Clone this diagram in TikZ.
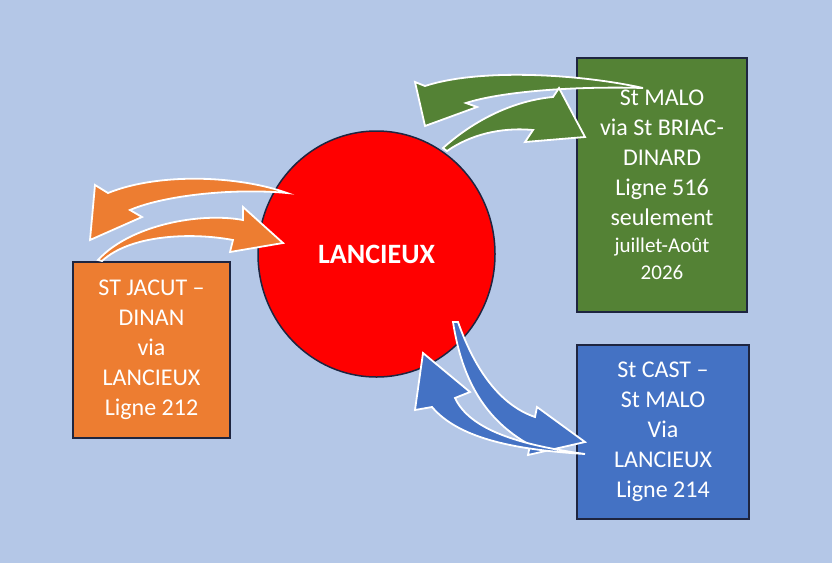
\documentclass[tikz,border=0pt]{standalone}
\usepackage{fontspec}
\setmainfont{Carlito}
\usetikzlibrary{shapes.geometric}
\definecolor{bgblue}{HTML}{B4C7E7}
\definecolor{boxgreen}{HTML}{548235}
\definecolor{boxorange}{HTML}{ED7D31}
\definecolor{boxblue}{HTML}{4472C4}
\definecolor{edgedark}{HTML}{1E2540}
\begin{document}
\begin{tikzpicture}[x=1pt,y=-1pt]
    \tikzstyle{every node}+=[inner sep=0pt]
    \tikzstyle{linebox}=[draw=edgedark, line width=1.5pt, text=white, align=center, font=\fontsize{24}{30}\selectfont]
    \tikzstyle{band}=[draw=white, line width=1.8pt, line join=miter]
    \fill [bgblue] (0,0) rectangle (832,563);
    \useasboundingbox (0,0) rectangle (832,563);
    \node [linebox, fill=boxorange, minimum width=157pt, minimum height=176pt] (jacut) at (151.5,350) {ST JACUT –\\DINAN\\via\\LANCIEUX\\Ligne 212};
    \node [linebox, fill=boxgreen, minimum width=170pt, minimum height=254pt] (malo) at (662,185) {St MALO\\via St BRIAC-\\DINARD\\Ligne 516\\seulement\\[-3pt]{\fontsize{21}{26}\selectfont juillet-Août}\\[-3pt]{\fontsize{21}{26}\selectfont 2026}};
    \node [linebox, fill=boxblue, minimum width=172pt, minimum height=174pt] (cast) at (663,432) {St CAST –\\St MALO\\Via\\LANCIEUX\\Ligne 214};
    \node [ellipse, draw=edgedark, fill=red, line width=1.5pt, minimum width=237pt, minimum height=246pt, text=white, font=\bfseries\fontsize{28}{34}\selectfont] (lancieux) at (376.5,254) {LANCIEUX};
    \draw [band, fill=boxgreen] (643,88) .. controls (580,74) and (480,68) .. (425,86) -- (415,82) -- (425,126) -- (477,107) -- (466,103) .. controls (500,92) and (570,86) .. (643,88) -- cycle;
    \draw [band, fill=boxgreen] (443,148) .. controls (480,115) and (520,100) .. (553,97) -- (559,88) -- (585,137) -- (525,142) -- (533,130) .. controls (500,127) and (470,135) .. (447,151) -- cycle;
    \draw [band, fill=boxorange] (287,193) .. controls (240,176) and (160,172) .. (108,193) -- (95,185) -- (90,240) -- (142,217) -- (130,210) .. controls (165,195) and (235,188) .. (287,193) -- cycle;
    \draw [band, fill=boxorange] (98,260) .. controls (130,225) and (200,212) .. (243,220) -- (243,207) -- (283,243) -- (230,252) -- (233,240) .. controls (190,232) and (130,235) .. (102,261) -- cycle;
    \draw [band, fill=boxblue] (453,322) .. controls (462,380) and (485,420) .. (530,445) -- (528,455) -- (585,442) -- (537,407) -- (535,417) .. controls (500,405) and (475,370) .. (458,322) -- cycle;
    \draw [band, fill=boxblue] (423,353) -- (470,392) -- (455,398) .. controls (470,430) and (520,445) .. (585,454) .. controls (520,450) and (460,440) .. (432,407) -- (415,410) -- cycle;
\end{tikzpicture}
\end{document}
